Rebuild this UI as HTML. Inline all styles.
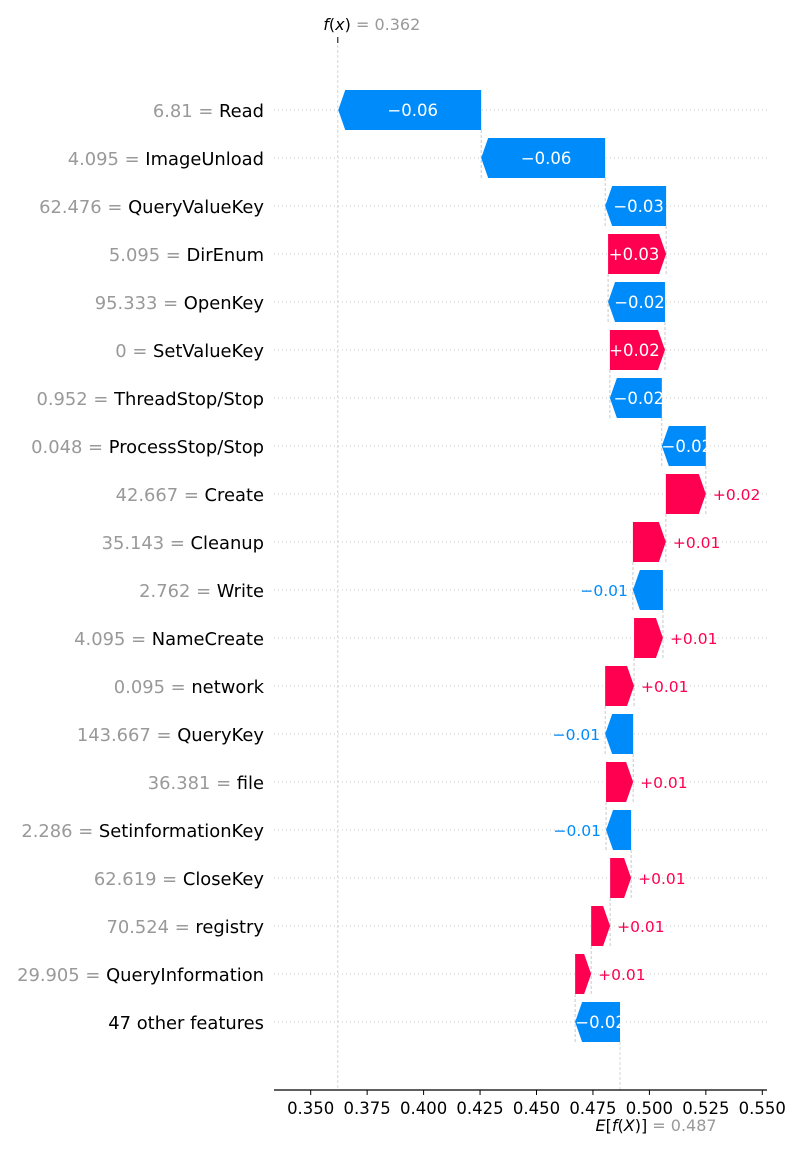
<!DOCTYPE html>
<html><head><meta charset="utf-8"><style>
body{margin:0;background:#fff;}
svg text{font-family:"DejaVu Sans","Liberation Sans",sans-serif;}
</style></head><body>
<svg id="chart" width="800" height="1150" viewBox="0 0 800 1150" xmlns="http://www.w3.org/2000/svg">
<g id="grid"></g><g id="conn"></g><g id="bars"></g><g id="labels"></g><g id="axis"></g>
</svg>
<script>
const featureNames=["Read","ImageUnload","QueryValueKey","DirEnum","OpenKey","SetValueKey","ThreadStop/Stop","ProcessStop/Stop","Create","Cleanup","Write","NameCreate","network","QueryKey","file","SetinformationKey","CloseKey","registry","QueryInformation","47 other features"];
const featureValues=["6.81","4.095","62.476","5.095","95.333","0","0.952","0.048","42.667","35.143","2.762","4.095","0.095","143.667","36.381","2.286","62.619","70.524","29.905",""];
const shapValues=[-0.0633,-0.0549,-0.0270,0.0257,-0.0252,0.0244,-0.0230,-0.0195,0.0177,0.0146,-0.0133,0.0128,0.0128,-0.0124,0.0120,-0.0111,0.0093,0.0084,0.0071,-0.0199];
const shapLabels=["\u22120.06","\u22120.06","\u22120.03","+0.03","\u22120.02","+0.02","\u22120.02","\u22120.02","+0.02","+0.01","\u22120.01","+0.01","+0.01","\u22120.01","+0.01","\u22120.01","+0.01","+0.01","+0.01","\u22120.02"];
const baseValue=0.487;
const fxValue=0.362;
const xTicks=[0.350,0.375,0.400,0.425,0.450,0.475,0.500,0.525,0.550];

const NS="http://www.w3.org/2000/svg";
const X=v=>310.7+(v-0.35)*2258;
const Y=i=>110+i*48;
const BLUE="#008bfb",RED="#ff0051";
function mk(tag,attrs,parent,txt){const e=document.createElementNS(NS,tag);for(const k in attrs)e.setAttribute(k,attrs[k]);if(txt!==undefined)e.textContent=txt;document.getElementById(parent).appendChild(e);return e;}

const n=shapValues.length;
const ends=new Array(n);let cum=baseValue;
for(let i=n-1;i>=0;i--){const s=cum;cum+=shapValues[i];ends[i]=[s,cum];}

for(let i=0;i<n;i++){
  const y=Y(i);
  const g=mk('line',{x1:274,x2:767,y1:y,y2:y,stroke:'#ccc','stroke-width':1,'stroke-dasharray':'1,3'},'grid');
  
  
  const [s,e]=ends[i];const v=shapValues[i];
  const x0=X(s),x1=X(e);
  const top=y-20,bot=y+20;
  const w=Math.abs(x1-x0);const head=Math.min(7,w);
  let pts;
  if(v<0){pts=[[x0,top],[x1+head,top],[x1,y],[x1+head,bot],[x0,bot]];}
  else{pts=[[x0,top],[x1-head,top],[x1,y],[x1-head,bot],[x0,bot]];}
  const p=mk('polygon',{points:pts.map(q=>q.join(',')).join(' '),fill:v<0?BLUE:RED},'bars');
  
  
  if(i>0){const c=mk('line',{x1:x1,x2:x1,y1:Y(i-1)+20,y2:bot,stroke:'#bbb','stroke-width':0.8,'stroke-dasharray':'3,2'},'conn');
    
    }
  let t;
  if(w>43){t=mk('text',{x:(x0+x1)/2+(v<0?3:-3),y:y+6,'text-anchor':'middle','font-size':16.5,fill:'#fff'},'labels',shapLabels[i]);}
  else if(v<0){t=mk('text',{x:x1-5,y:y+6,'text-anchor':'end','font-size':15.5,fill:BLUE},'labels',shapLabels[i]);}
  else{t=mk('text',{x:x1+7,y:y+6,'text-anchor':'start','font-size':15.5,fill:RED},'labels',shapLabels[i]);}
  
  
  const fl=mk('text',{x:264,y:y+7,'text-anchor':'end','font-size':17.9,fill:'#000'},'labels');
  
  
  if(featureValues[i]!==''){const ts=document.createElementNS(NS,'tspan');ts.setAttribute('fill','#999');ts.textContent=featureValues[i]+' = ';fl.appendChild(ts);}
  const ts2=document.createElementNS(NS,'tspan');ts2.textContent=featureNames[i];fl.appendChild(ts2);
}
const fl1=mk('line',{x1:X(fxValue),x2:X(fxValue),y1:40,y2:1090,stroke:'#ccc','stroke-width':0.8,'stroke-dasharray':'3,2'},'conn');


const tk=mk('line',{x1:X(fxValue),x2:X(fxValue),y1:37,y2:43,stroke:'#000','stroke-width':1},'axis');


const el=mk('line',{x1:X(baseValue),x2:X(baseValue),y1:Y(n-1)+20,y2:1090,stroke:'#ccc','stroke-width':0.8,'stroke-dasharray':'3,2'},'conn');


const fxt=mk('text',{x:X(fxValue)+34,y:30,'text-anchor':'middle','font-size':16},'axis');


fxt.innerHTML='<tspan font-style="italic">f</tspan>(<tspan font-style="italic">x</tspan>)<tspan fill="#999"> = '+fxValue.toFixed(3)+'</tspan>';
const et=mk('text',{x:X(baseValue)+36,y:1131,'text-anchor':'middle','font-size':16},'axis');


et.innerHTML='<tspan font-style="italic">E</tspan>[<tspan font-style="italic">f</tspan>(<tspan font-style="italic">X</tspan>)]<tspan fill="#999"> = '+baseValue.toFixed(3)+'</tspan>';
const ax=mk('line',{x1:274,x2:767,y1:1090,y2:1090,stroke:'#000','stroke-width':1.2},'axis');


xTicks.forEach(v=>{
  const l=mk('line',{x1:X(v),x2:X(v),y1:1090,y2:1095,stroke:'#000','stroke-width':1},'axis');
  
  
  const t=mk('text',{x:X(v),y:1114,'text-anchor':'middle','font-size':16.5,fill:'#000'},'axis',v.toFixed(3));
  
  
});
</script>
</body></html>
